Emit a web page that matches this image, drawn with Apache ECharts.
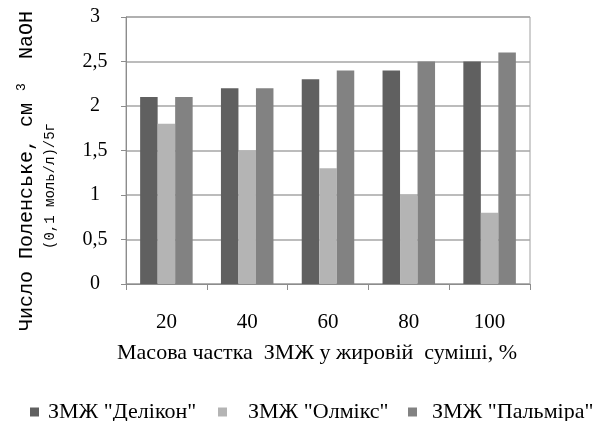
<!DOCTYPE html>
<html>
<head>
<meta charset="utf-8">
<script src="https://cdn.jsdelivr.net/npm/echarts@6/dist/echarts.min.js"></script>
<style>html,body{margin:0;padding:0;background:#fff;}#c{width:597px;height:421px;}</style>
</head>
<body>
<div id="c"></div>
<script>
const categories = ['20', '40', '60', '80', '100'];
const delikon = [2.1, 2.2, 2.3, 2.4, 2.5];
const olmiks = [1.8, 1.5, 1.3, 1.0, 0.8];
const palmira = [2.1, 2.2, 2.4, 2.5, 2.6];
const seriesNames = ['ЗМЖ "Делікон"', 'ЗМЖ "Олмікс"', 'ЗМЖ "Пальміра"'];
const colors = ['#606060', '#b4b4b4', '#828282'];
const xTitle = 'Масова частка  ЗМЖ у жировій  суміші, %';

const serif = '"Liberation Serif", "Times New Roman", serif';
const mono = '"Liberation Mono", "Courier New", monospace';

const chart = echarts.init(document.getElementById('c'), null, {renderer: 'canvas'});

function legendAt(i, left, pad) {
  return {
    data: [seriesNames[i]],
    left: left, top: 396,
    itemWidth: 9, itemHeight: 9, icon: 'rect',
    selectedMode: false,
    textStyle: {fontFamily: serif, fontSize: 22, color: '#000', padding: [0, 0, 0, pad]}
  };
}

chart.setOption({
  animation: false,
  color: colors,
  grid: {left: 126, right: 67, top: 17, bottom: 137, show: true, borderColor: '#a0a0a0', borderWidth: 1},
  legend: [legendAt(0, 25, 4), legendAt(1, 213, 16), legendAt(2, 403, 10)],
  xAxis: {
    type: 'category',
    data: categories,
    axisLine: {lineStyle: {color: '#8c8c8c', width: 1}},
    axisTick: {show: true, length: 6, lineStyle: {color: '#8c8c8c'}},
    axisLabel: {fontFamily: serif, fontSize: 21, color: '#000', margin: 28},
    name: xTitle,
    nameLocation: 'middle',
    nameGap: 58,
    nameTextStyle: {fontFamily: serif, fontSize: 22, color: '#000', padding: [0, 22, 0, 0]}
  },
  yAxis: {
    type: 'value',
    min: 0, max: 3, interval: 0.5,
    axisLine: {show: true, lineStyle: {color: '#8c8c8c', width: 1}},
    axisTick: {show: true, length: 5, lineStyle: {color: '#8c8c8c'}},
    splitLine: {lineStyle: {color: '#a6a6a6', width: 1.5}},
    axisLabel: {
      fontFamily: serif, fontSize: 20, color: '#000', align: 'center', margin: 31,
      padding: [6, 0, 0, 0],
      formatter: v => String(v).replace('.', ',')
    }
  },
  graphic: [
    {
      type: 'text', x: 27, y: 171, rotation: Math.PI / 2,
      style: {
        text: '{n|Число Поленське, см }{s|3}{n|  NaOH}',
        textAlign: 'center', textVerticalAlign: 'middle', fill: '#000',
        rich: {
          n: {fontFamily: mono, fontSize: 20, lineHeight: 24, fill: '#000'},
          s: {fontFamily: mono, fontSize: 13, lineHeight: 13, verticalAlign: 'top', fill: '#000'}
        }
      }
    },
    {
      type: 'text', x: 50, y: 186, rotation: Math.PI / 2,
      style: {
        text: '(0,1 моль/л)/5г',
        font: '14px ' + mono,
        textAlign: 'center', textVerticalAlign: 'middle', fill: '#000'
      }
    }
  ],
  series: [
    {name: seriesNames[0], type: 'bar', data: delikon, barGap: '0%', barCategoryGap: '35%'},
    {name: seriesNames[1], type: 'bar', data: olmiks, barGap: '0%', barCategoryGap: '35%'},
    {name: seriesNames[2], type: 'bar', data: palmira, barGap: '0%', barCategoryGap: '35%'}
  ]
});
</script>
</body>
</html>
